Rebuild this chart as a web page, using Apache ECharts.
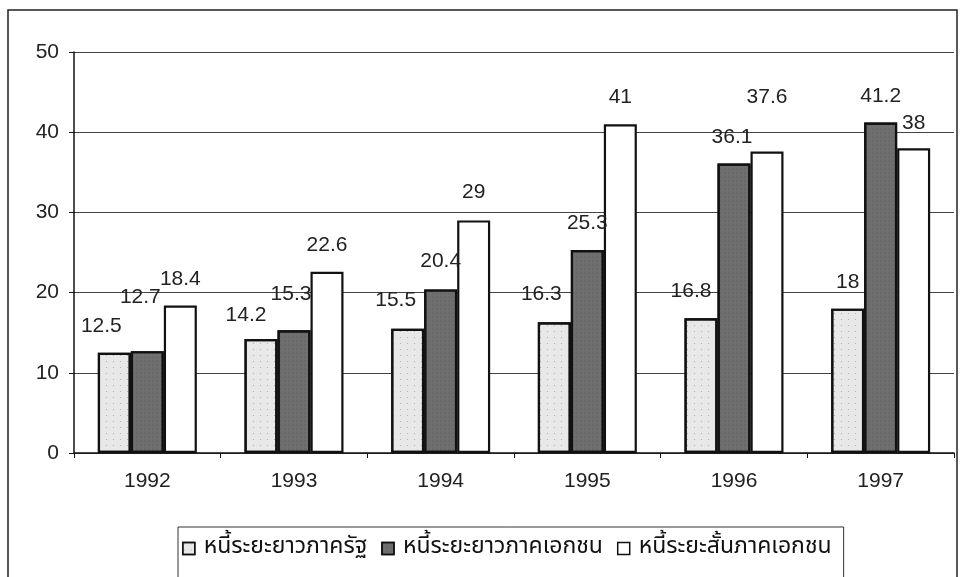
<!DOCTYPE html>
<html>
<head>
    <meta charset="utf-8">
    <title>หนี้ต่างประเทศ</title>
    <script src="https://cdn.jsdelivr.net/npm/echarts@6/dist/echarts.min.js"></script>
    <style>
        html, body { margin: 0; padding: 0; background: #fff; }
        #chart1 { width: 962px; height: 577px; }
    </style>
</head>
<body>
<div id="chart1"></div>
<script type="text/javascript">
    // ข้อมูล
    var years = ['1992', '1993', '1994', '1995', '1996', '1997'];
    var seriesNames = ['หนี้ระยะยาวภาครัฐ', 'หนี้ระยะยาวภาคเอกชน', 'หนี้ระยะสั้นภาคเอกชน'];
    var govLong = [12.5, 14.2, 15.5, 16.3, 16.8, 18];
    var privLong = [12.7, 15.3, 20.4, 25.3, 36.1, 41.2];
    var privShort = [18.4, 22.6, 29, 41, 37.6, 38];
    var yTicks = [0, 10, 20, 30, 40, 50];

    // label nudges (as in the scanned original)
    var nudges = [
        [[-13, 0], [-15, 3], [-12, -2], [-13, -2], [-10, -1], [0, 0]],
        [[-7, -27], [-3, -10], [0, -2], [0, 0], [-2, 0], [0, 0]],
        [[0, 0], [0, 0], [0, -2], [0, 0], [0, -28], [0, 1]]
    ];

    var fills = ['#e8e8e8', '#6f6f6f', '#ffffff'];
    var decals = [
        { symbol: 'circle', symbolSize: 0.4, dashArrayX: [[3, 4]], dashArrayY: [3, 3], color: 'rgba(110,110,110,0.5)' },
        { symbol: 'circle', symbolSize: 0.5, dashArrayX: [[2, 2]], dashArrayY: [2, 2], color: 'rgba(45,45,45,0.45)' },
        null
    ];

    function build(values, idx) {
        return values.map(function (v, i) {
            return {
                value: v,
                label: { offset: nudges[idx][i] }
            };
        });
    }

    var myChart1 = echarts.init(document.getElementById('chart1'));
    var font = '"Liberation Sans", Arial, sans-serif';

    myChart1.setOption({
        animation: false,
        backgroundColor: '#fff',
        textStyle: { fontFamily: font },
        grid: { left: 74, right: 8, top: 52, bottom: 124 },
        graphic: [
            {// frame
                type: 'rect',
                shape: { x: 8, y: 10, width: 949, height: 600 },
                style: { fill: 'none', stroke: '#222', lineWidth: 1.5 },
                silent: true
            }
        ],
        xAxis: {
            type: 'category',
            data: years,
            axisLine: { lineStyle: { color: '#111', width: 1.5 } },
            axisTick: { show: true, length: 5, lineStyle: { color: '#111' } },
            axisLabel: { color: '#222', fontSize: 21, margin: 18, fontFamily: font }
        },
        yAxis: {
            type: 'value',
            min: yTicks[0],
            max: yTicks[yTicks.length - 1],
            interval: 10,
            axisLine: { show: true, lineStyle: { color: '#111', width: 1.5 } },
            axisTick: { show: true, length: 5, lineStyle: { color: '#111' } },
            axisLabel: { color: '#222', fontSize: 21, margin: 15, fontFamily: font },
            splitLine: { lineStyle: { color: '#444', width: 1 } }
        },
        legend: {
            left: 178,
            top: 527,
            padding: [10, 12, 20, 4],
            borderColor: '#333',
            borderWidth: 1,
            itemGap: 14,
            itemWidth: 12,
            itemHeight: 12,
            icon: 'rect',
            textStyle: { fontSize: 23, color: '#111', padding: [0, 0, 0, 4],
                fontFamily: '"Noto Sans Thai", "Noto Sans", Tahoma, sans-serif' },
            data: seriesNames.map(function (n, i) {
                return { name: n, itemStyle: { color: fills[i], borderColor: '#111', borderWidth: 1.5 } };
            })
        },
        series: [govLong, privLong, privShort].map(function (vals, i) {
            return {
                name: seriesNames[i],
                type: 'bar',
                barWidth: 33,
                barGap: '0%',
                data: build(vals, i),
                itemStyle: {
                    color: fills[i],
                    borderColor: '#111',
                    borderWidth: 2.2,
                    decal: decals[i]
                },
                label: {
                    show: true,
                    position: 'top',
                    distance: 16,
                    fontSize: 21,
                    color: '#222',
                    fontFamily: font
                }
            };
        })
    });
</script>
</body>
</html>
